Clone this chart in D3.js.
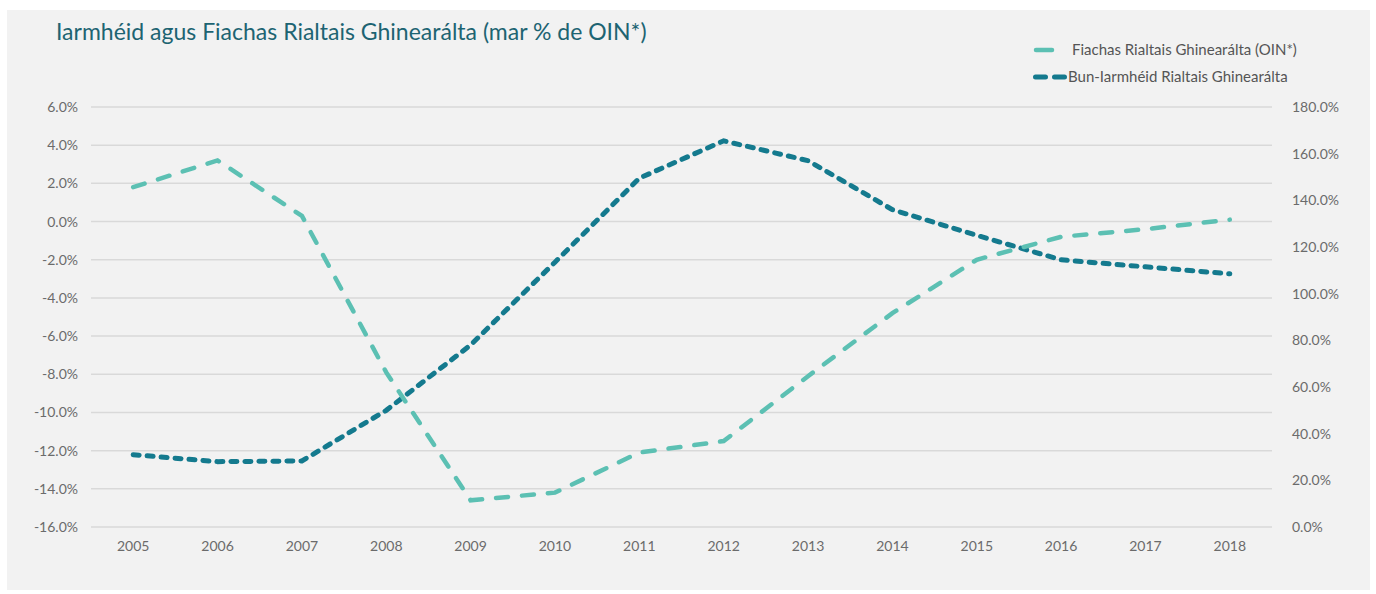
<!DOCTYPE html>
<html>
<head>
<meta charset="utf-8">
<script src="https://cdn.jsdelivr.net/npm/d3@7"></script>
<style>
  body { margin: 0; background: #fff; font-family: Lato, "Open Sans", sans-serif; }
</style>
</head>
<body>
<svg id="chart"></svg>
<script>
// data
const years = ["2005", "2006", "2007", "2008", "2009", "2010", "2011", "2012", "2013", "2014", "2015", "2016", "2017", "2018"];
const balance = [1.8, 3.2, 0.3, -7.9, -14.6, -14.2, -12.1, -11.5, -8.1, -4.8, -2.0, -0.8, -0.4, 0.1]; // left axis
const debt = [31, 28, 28.3, 50, 78, 113.5, 149.5, 165.5, 157, 136, 125, 114.5, 111.5, 108.5]; // right axis
const leftTicks = [-16, -14, -12, -10, -8, -6, -4, -2, 0, 2, 4, 6];
const rightTicks = [0, 20, 40, 60, 80, 100, 120, 140, 160, 180];
const seriesNames = ["Fiachas Rialtais Ghinearálta (OIN*)", "Bun-Iarmhéid Rialtais Ghinearálta"];
const title = "Iarmhéid agus Fiachas Rialtais Ghinearálta (mar % de OIN*)";

const W = 1376, H = 594;
const margin = { top: 107, right: 104, bottom: 67, left: 91 };
const width = W - margin.left - margin.right;
const height = H - margin.top - margin.bottom;

const lightCol = "#5cc0b3";
const darkCol = "#147a8e";
const labelCol = "#6b6b6b";

const svg = d3.select("#chart").attr("width", W).attr("height", H);

// grey panel
svg.append("rect")
  .attr("x", 7).attr("y", 10)
  .attr("width", W - 13).attr("height", H - 14)
  .attr("fill", "#f2f2f2");

svg.append("text")
  .attr("x", 56).attr("y", 40)
  .style("font-size", "23px")
  .style("fill", "#1d6472")
  .text(title);

const g = svg.append("g").attr("transform", `translate(${margin.left},${margin.top})`);

const x = d3.scaleBand().domain(years).range([0, width]);
const yL = d3.scaleLinear().domain([-16, 6]).range([height, 0]);
const yR = d3.scaleLinear().domain([0, 180]).range([height, 0]);

// gridlines
g.append("g")
  .selectAll("line")
  .data(leftTicks)
  .enter().append("line")
  .attr("x1", 0).attr("x2", width)
  .attr("y1", d => yL(d)).attr("y2", d => yL(d))
  .attr("stroke", "#d9d9d9")
  .attr("stroke-width", 1.5);

const fmt = d => d.toFixed(1) + "%";

const styleAxis = (sel) => {
  sel.select(".domain").remove();
  sel.selectAll("text")
    .style("font-size", "14px")
    .style("fill", labelCol)
    .style("font-family", "Lato, sans-serif");
};

g.append("g")
  .call(d3.axisLeft(yL).tickValues(leftTicks).tickFormat(fmt).tickSize(0).tickPadding(13))
  .call(styleAxis);

g.append("g")
  .attr("transform", `translate(${width},0)`)
  .call(d3.axisRight(yR).tickValues(rightTicks).tickFormat(fmt).tickSize(0).tickPadding(20))
  .call(styleAxis);

g.append("g")
  .attr("transform", `translate(0,${height})`)
  .call(d3.axisBottom(x).tickSize(0).tickPadding(14))
  .call(styleAxis);

const cx = d => x(d) + x.bandwidth() / 2;

const lineL = d3.line().x((d, i) => cx(years[i])).y(d => yL(d));
const lineR = d3.line().x((d, i) => cx(years[i])).y(d => yR(d));

g.append("path")
  .datum(debt)
  .attr("d", lineR)
  .attr("fill", "none")
  .attr("stroke", darkCol)
  .attr("stroke-width", 5)
  .attr("stroke-linecap", "round")
  .attr("stroke-dasharray", "6 8");

g.append("path")
  .datum(balance)
  .attr("d", lineL)
  .attr("fill", "none")
  .attr("stroke", lightCol)
  .attr("stroke-width", 4.5)
  .attr("stroke-linecap", "round")
  .attr("stroke-dasharray", "12 14");

// legend
const legend = svg.append("g").attr("transform", "translate(1033,50)");
const items = [
  { name: seriesNames[0], col: lightCol, w: 4.5, x1: 3, x2: 19, dash: null, tx: 39 },
  { name: seriesNames[1], col: darkCol, w: 5, x1: 2.5, x2: 32, dash: "10 9", tx: 35 }
];
items.forEach((it, i) => {
  const row = legend.append("g").attr("transform", `translate(0,${i * 27})`);
  row.append("line")
    .attr("x1", it.x1).attr("x2", it.x2)
    .attr("y1", 0).attr("y2", 0)
    .attr("stroke", it.col)
    .attr("stroke-width", it.w)
    .attr("stroke-linecap", "round")
    .attr("stroke-dasharray", it.dash);
  row.append("text")
    .attr("x", it.tx).attr("y", 5)
    .style("font-size", "15px")
    .style("fill", "#555")
    .text(it.name);
});
</script>
</body>
</html>
